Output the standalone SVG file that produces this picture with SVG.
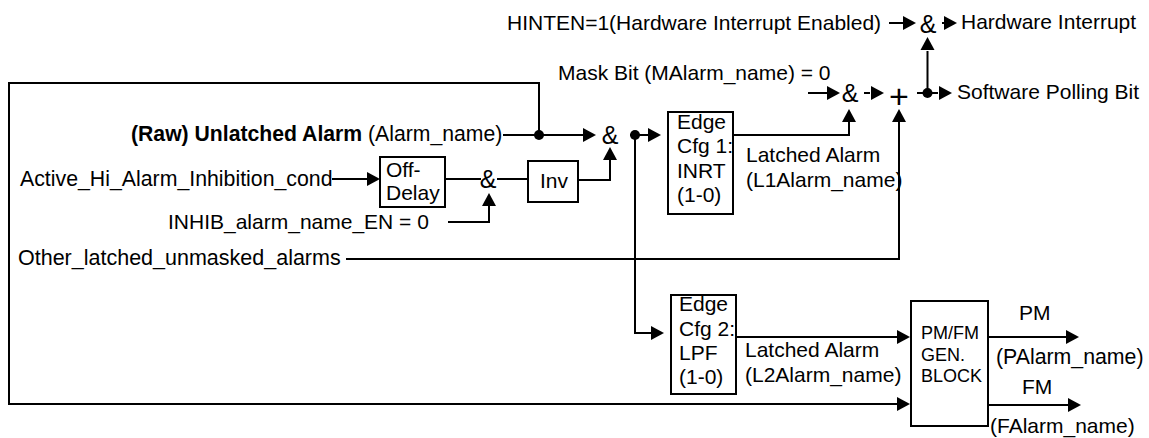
<svg xmlns="http://www.w3.org/2000/svg" width="1149" height="438" viewBox="0 0 1149 438">
<style>
text{font-family:"Liberation Sans",Arial,sans-serif;font-size:21px;fill:#000}
.sym{font-size:25px;text-anchor:middle}
.b{font-weight:bold}
.sm{font-size:18px}
.w{fill:none;stroke:#000;stroke-width:2}
.box{fill:#fff;stroke:#000;stroke-width:2}
.h{fill:#000;stroke:none}
</style>
<defs>
<polygon id="r" class="h" points="-13,-7 0,0 -13,7"/>
<polygon id="u" class="h" points="-7,13 0,0 7,13"/>
</defs>
<g id="connectors">
<path class="w" d="M503 135H584M539 135V83H9V404H898"/>
<path class="w" d="M332 179H367M445 179H481M497 179H528M578 180H610V160M448 222H489V206"/>
<path class="w" d="M346 259H899V122M630 135H648M635 135V333H651"/>
<path class="w" d="M733 135H849V122M736 337H898M988 337H1066M988 405H1068"/>
<path class="w" d="M808 93H827M864 93H870M917 93H938M927.500 93V51M889 23H903M942 23H946"/>
<use href="#r" x="596" y="135"/><use href="#r" x="661" y="135"/><use href="#r" x="380" y="179"/>
<use href="#r" x="664" y="333"/><use href="#r" x="910" y="337"/><use href="#r" x="910" y="404"/>
<use href="#r" x="1079" y="337"/><use href="#r" x="1081" y="405"/><use href="#r" x="840" y="93"/>
<use href="#r" x="884" y="93"/><use href="#r" x="952" y="93"/><use href="#r" x="916" y="23"/><use href="#r" x="957" y="23"/>
<use href="#u" x="489" y="193"/><use href="#u" x="610" y="147"/><use href="#u" x="849" y="109"/>
<use href="#u" x="899" y="109"/><use href="#u" x="927.500" y="37"/>
<circle class="h" cx="539" cy="135" r="5"/><circle class="h" cx="635" cy="135" r="5"/><circle class="h" cx="927.500" cy="93" r="5"/>
</g>
<g id="off-delay"><rect class="box" x="380" y="157" width="65" height="50"/><text x="386" y="177">Off-</text><text x="386" y="200">Delay</text></g>
<g id="inv"><rect class="box" x="528" y="161" width="50" height="41"/><text x="540" y="188">Inv</text></g>
<g id="edge1"><rect class="box" x="668" y="112" width="65" height="102"/><text x="677" y="129">Edge</text><text x="677" y="153">Cfg 1:</text><text x="677" y="178">INRT</text><text x="677" y="202">(1-0)</text></g>
<g id="edge2"><rect class="box" x="671" y="295" width="65" height="99"/><text x="679" y="311">Edge</text><text x="679" y="336">Cfg 2:</text><text x="679" y="360">LPF</text><text x="679" y="384">(1-0)</text></g>
<g id="pmfm"><rect class="box" x="911" y="301" width="77" height="125"/><text class="sm" x="921" y="339">PM/FM</text><text class="sm" x="921" y="361">GEN.</text><text class="sm" x="921" y="382">BLOCK</text></g>
<g id="and1"><text class="sym" x="488" y="188">&amp;</text></g>
<g id="and2"><text class="sym" x="610" y="144">&amp;</text></g>
<g id="and3"><text class="sym" x="850" y="102">&amp;</text></g>
<g id="and4"><text class="sym" x="928" y="33">&amp;</text></g>
<g id="or1"><text class="sym" x="899" y="108" style="font-size:34px">+</text></g>
<g id="labels">
<text x="131" y="141" style="font-size:21.200px"><tspan class="b">(Raw) Unlatched Alarm</tspan> (Alarm_name)</text>
<text x="20" y="186" style="font-size:21.300px">Active_Hi_Alarm_Inhibition_cond</text>
<text x="168" y="229">INHIB_alarm_name_EN = 0</text>
<text x="18" y="265" style="font-size:21.500px">Other_latched_unmasked_alarms</text>
<text x="507" y="30">HINTEN=1(Hardware Interrupt Enabled)</text>
<text x="961" y="29">Hardware Interrupt</text>
<text x="558" y="80">Mask Bit (MAlarm_name) = 0</text>
<text x="957" y="99">Software Polling Bit</text>
<text x="746" y="162">Latched Alarm</text>
<text x="746" y="187">(L1Alarm_name)</text>
<text x="745" y="357">Latched Alarm</text>
<text x="745" y="382">(L2Alarm_name)</text>
<text x="1019" y="320">PM</text>
<text x="996" y="364" style="font-size:21.300px">(PAlarm_name)</text>
<text x="1022" y="394">FM</text>
<text x="990" y="433">(FAlarm_name)</text>
</g>
</svg>
